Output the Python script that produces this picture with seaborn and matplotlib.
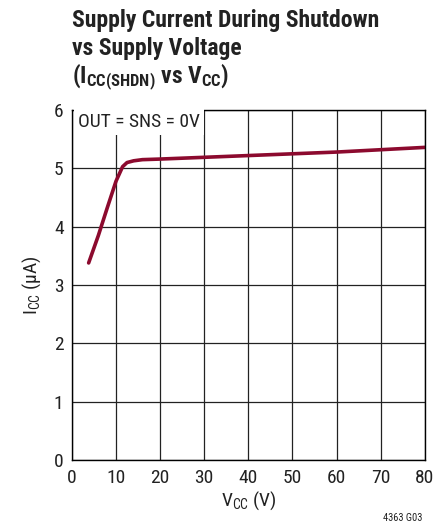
import matplotlib.pyplot as plt
import pandas as pd
import seaborn as sns

# values
vcc = [3.8, 6, 8, 10, 11.5, 12.5, 14, 16, 20, 30, 40, 50, 60, 70, 80]
icc = [3.38, 3.85, 4.32, 4.78, 5.03, 5.10, 5.13, 5.15, 5.16, 5.19, 5.22, 5.25, 5.28, 5.32, 5.36]

x_ticks = [0, 10, 20, 30, 40, 50, 60, 70, 80]
y_ticks = [0, 1, 2, 3, 4, 5, 6]

title_lines = ["Supply Current During Shutdown", "vs Supply Voltage",
               "(I$_{CC(SHDN)}$ vs V$_{CC}$)"]

FONT = ["Roboto Condensed", "Liberation Sans Narrow", "Roboto", "DejaVu Sans"]


def main():
    df = pd.DataFrame({"vcc": vcc, "icc": icc})

    sns.set_style("white")
    plt.rcParams["font.family"] = FONT
    plt.rcParams["mathtext.default"] = "regular"

    fig = plt.figure(figsize=(4.33, 5.29), dpi=100)
    ax = fig.add_axes([0.166, 0.130, 0.815, 0.662])

    sns.lineplot(data=df, x="vcc", y="icc", ax=ax, color="#8c0a2e", linewidth=2.6)

    ax.set_xlim(0, 80)
    ax.set_ylim(0, 6)
    ax.set_xticks(x_ticks)
    ax.set_yticks(y_ticks)
    ax.grid(True, color="#222222", linewidth=0.9)
    ax.set_axisbelow(True)
    for s in ax.spines.values():
        s.set_color("black")
        s.set_linewidth(1.0)
    ax.tick_params(axis="both", labelsize=14, length=0, pad=6, colors="#222222")

    ax.set_xlabel("V$_{CC}$ (V)", fontsize=14, color="#222222", labelpad=2)
    ax.set_ylabel("I$_{CC}$ (µA)", fontsize=14, color="#222222", labelpad=8)

    ax.text(1.5, 5.95, "OUT = SNS = 0V", fontsize=14, color="#222222", va="top", ha="left",
            bbox=dict(facecolor="white", edgecolor="none", pad=3))

    for line, yb in zip(title_lines, [0.949, 0.896, 0.843]):
        fig.text(0.166, yb, line, fontsize=17, fontweight="bold", va="baseline",
                 ha="left", color="#222222")

    fig.text(0.975, 0.012, "4363 G03", fontsize=7.5, ha="right", va="bottom", color="#222222")

    fig.savefig("out.png", dpi=100)


if __name__ == "__main__":
    main()
